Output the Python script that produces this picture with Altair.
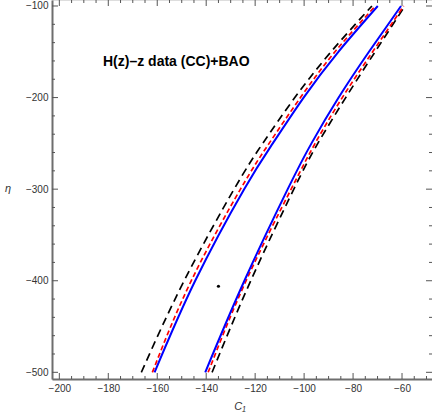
import altair as alt
import pandas as pd

# ---- data ----
eta_levels = [-500, -400, -300, -250, -200, -150, -100]

blue_left  = [-161.1, -144.5, -124.5, -112.8, -100.2, -86.0, -69.9]
blue_right = [-140.4, -124.4, -106.7, -97.0, -85.9, -73.5, -60.4]
red_left   = [-162.0, -146.1, -126.0, -114.3, -101.5, -87.4, -70.9]
red_right  = [-139.2, -123.7, -105.3, -95.5, -84.4, -72.0, -59.3]
black_left = [-166.5, -149.0, -128.6, -116.9, -103.8, -89.0, -72.3]
black_right = [-137.6, -121.8, -104.2, -94.4, -83.0, -71.0, -58.8]

best_fit_c1 = [-135.0]
best_fit_eta = [-406.0]

x_major = [-200, -180, -160, -140, -120, -100, -80, -60]
x_minor = list(range(-200, -45, 5))
y_major = [-500, -400, -300, -200, -100]
y_minor = list(range(-500, -90, 20))

title_text = "H(z)\u2013z data (CC)+BAO"

# ---- build tables ----
def curve_df(vals, name):
    return pd.DataFrame({"c1": vals, "eta": eta_levels, "curve": name})

blue_df = pd.concat([curve_df(blue_left, "L"), curve_df(blue_right, "R")])
red_df = pd.concat([curve_df(red_left, "L"), curve_df(red_right, "R")])
black_df = pd.concat([curve_df(black_left, "L"), curve_df(black_right, "R")])
pt_df = pd.DataFrame({"c1": best_fit_c1, "eta": best_fit_eta})

W, H = 380, 379
xs = alt.Scale(domain=[-203.0, -47.75], nice=False, zero=False)
ys = alt.Scale(domain=[-507.3, -93.45], nice=False, zero=False)

FONT = "Liberation Sans"
AX = "#6e6e6e"
x_axis = alt.Axis(values=x_major, format="d", ticks=False, grid=False,
                  domainColor=AX, domainWidth=2, labelFont=FONT,
                  labelFontSize=10, labelColor="#333333", labelPadding=4,
                  labelFlush=False, labelOverlap=False, title=None)
y_axis = alt.Axis(values=y_major, format="d", ticks=False, grid=False,
                  domainColor=AX, domainWidth=2, labelFont=FONT,
                  labelFontSize=10, labelColor="#333333", labelPadding=4,
                  labelFlush=False, labelOverlap=False, title=None)

def X(f):
    return alt.X(f, type="quantitative", scale=xs, axis=x_axis)

def Y(f):
    return alt.Y(f, type="quantitative", scale=ys, axis=y_axis)

INTERP = "natural"
blue = alt.Chart(blue_df).mark_line(color="#0000ff", strokeWidth=2, interpolate=INTERP).encode(
    x=X("c1"), y=Y("eta"), detail="curve:N", order="eta:Q")
red = alt.Chart(red_df).mark_line(color="#ff0000", strokeWidth=1.7, strokeDash=[5, 3],
                                  interpolate=INTERP).encode(
    x=X("c1"), y=Y("eta"), detail="curve:N", order="eta:Q")
black = alt.Chart(black_df).mark_line(color="#000000", strokeWidth=1.7, strokeDash=[8, 5],
                                      interpolate=INTERP).encode(
    x=X("c1"), y=Y("eta"), detail="curve:N", order="eta:Q")
pt = alt.Chart(pt_df).mark_circle(color="black", size=10, opacity=1).encode(
    x=X("c1"), y=Y("eta"))

# inward frame ticks
xmaj = pd.DataFrame({"v": x_major})
xmin = pd.DataFrame({"v": [v for v in x_minor if v not in x_major]})
ymaj = pd.DataFrame({"v": y_major})
ymin = pd.DataFrame({"v": [v for v in y_minor if v not in y_major]})

TK = "#555555"
def xticks(df, L):
    b = alt.Chart(df).mark_rule(color=TK, strokeWidth=1).encode(
        x=X("v"), y=alt.value(H), y2=alt.value(H - L))
    t = alt.Chart(df).mark_rule(color=TK, strokeWidth=1).encode(
        x=X("v"), y=alt.value(0), y2=alt.value(L))
    return [b, t]

def yticks(df, L):
    l = alt.Chart(df).mark_rule(color=TK, strokeWidth=1).encode(
        y=Y("v"), x=alt.value(0), x2=alt.value(L))
    r = alt.Chart(df).mark_rule(color=TK, strokeWidth=1).encode(
        y=Y("v"), x=alt.value(W), x2=alt.value(W - L))
    return [l, r]

ticks = xticks(xmaj, 6) + xticks(xmin, 3) + yticks(ymaj, 6) + yticks(ymin, 3)

one = pd.DataFrame({"a": [0]})
title = alt.Chart(one).mark_text(text=title_text, font=FONT, fontSize=14, fontWeight="bold",
                                 align="left", baseline="middle", color="black").encode(
    x=alt.value(51), y=alt.value(62))
xlab = alt.Chart(one).mark_text(text="C\u2081", font=FONT, fontSize=11, fontStyle="italic",
                                align="center", baseline="middle", color="#333333").encode(
    x=alt.value(188), y=alt.value(407))
ylab = alt.Chart(one).mark_text(text="\u03b7", font=FONT, fontSize=11, fontStyle="italic",
                                align="center", baseline="middle", color="#333333").encode(
    x=alt.value(-44), y=alt.value(189))

chart = alt.layer(*ticks, black, red, blue, pt, title, xlab, ylab).properties(
    width=W, height=H,
    autosize=alt.AutoSizeParams(type="none"),
    padding={"left": 52, "top": 0, "right": 0, "bottom": 39},
).configure_view(stroke=None).configure(background="white")

chart.save("out.html", embed_options={"renderer": "svg", "actions": False})
